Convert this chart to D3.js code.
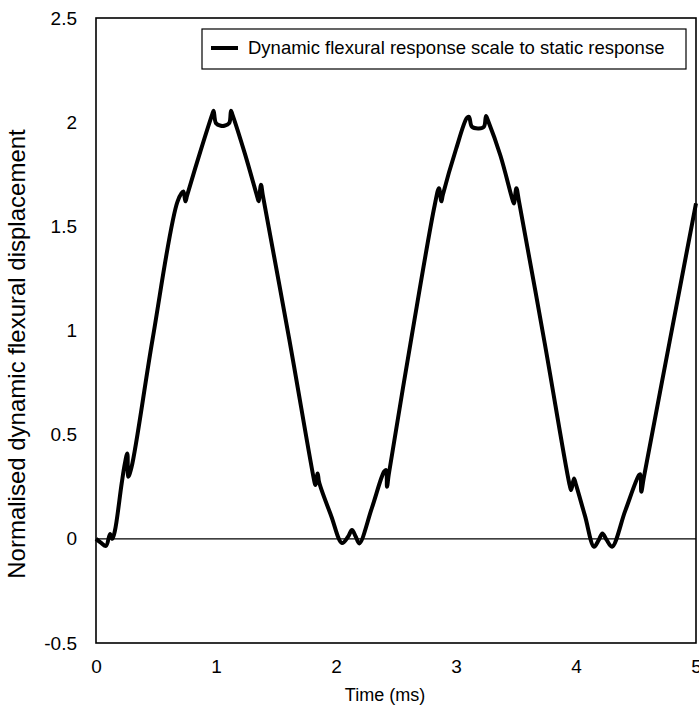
<!DOCTYPE html>
<meta charset="utf-8">
<script src="https://d3js.org/d3.v7.min.js"></script>
<style>
	body{
		margin:0;
		background:#fff;
		font-family:"Liberation Sans", Arial, sans-serif;
	}
	svg text{
		font-family:"Liberation Sans", Arial, sans-serif;
		fill:#000;
	}
</style>
<div id="chart"></div>
<script>

// time in ms
var timeMs = [0.000,0.040,0.083,0.117,0.136,0.158,0.214,0.240,0.261,0.269,0.297,0.472,0.680,0.728,0.745,0.760,0.870,0.970,0.980,1.000,1.040,1.070,1.110,1.125,1.135,1.240,1.347,1.355,1.375,1.390,1.610,1.820,1.828,1.847,1.860,1.960,2.050,2.100,2.133,2.165,2.194,2.300,2.400,2.417,2.425,2.440,2.633,2.822,2.858,2.878,2.890,3.000,3.090,3.108,3.133,3.190,3.233,3.250,3.265,3.370,3.475,3.483,3.503,3.525,3.739,3.947,3.960,3.983,4.000,4.075,4.150,4.190,4.220,4.255,4.300,4.410,4.525,4.536,4.544,4.564,4.780,5.000]
// normalised dynamic displacement
var response = [0.000,-0.018,-0.034,0.023,0.000,0.040,0.266,0.360,0.410,0.298,0.346,0.960,1.620,1.667,1.620,1.650,1.860,2.040,2.055,1.995,1.983,1.983,1.995,2.055,2.040,1.850,1.635,1.620,1.700,1.650,0.960,0.274,0.258,0.314,0.270,0.110,-0.020,0.010,0.042,0.010,-0.022,0.150,0.322,0.330,0.250,0.310,0.980,1.600,1.683,1.620,1.650,1.870,2.020,2.026,1.978,1.970,1.978,2.030,2.010,1.840,1.620,1.610,1.683,1.620,0.940,0.258,0.234,0.290,0.260,0.110,-0.038,-0.005,0.026,-0.005,-0.038,0.134,0.306,0.310,0.226,0.290,0.946,1.610]

var xTicks = [0,1,2,3,4,5]
var yTicks = [-0.5,0,0.5,1,1.5,2,2.5]
var legendLabel = "Dynamic flexural response scale to static response"

var w = 699
var h = 713
var plotL = 96, plotR = 696, plotT = 18, plotB = 643

var svg = d3.select("#chart").append("svg").attr("width",w).attr("height",h)

var x = d3.scaleLinear().domain([0,5]).range([plotL,plotR])
var y = d3.scaleLinear().domain([-0.5,2.5]).range([plotB,plotT])

// tick labels, no tick marks
var yAxis = svg.append("g").attr("transform","translate("+plotL+",0)")
	.call(d3.axisLeft(y).tickValues(yTicks).tickSize(0).tickPadding(19).tickFormat(function(d){return d}))
yAxis.select(".domain").remove()
yAxis.selectAll("text").style("font-size","19px").style("font-family","'Liberation Sans', Arial, sans-serif")

var xAxis = svg.append("g").attr("transform","translate(0,"+plotB+")")
	.call(d3.axisBottom(x).tickValues(xTicks).tickSize(0).tickPadding(17).tickFormat(function(d){return d}))
xAxis.select(".domain").remove()
xAxis.selectAll("text").style("font-size","19px").style("font-family","'Liberation Sans', Arial, sans-serif")

// zero line
svg.append("line")
	.attr("x1",plotL).attr("x2",plotR)
	.attr("y1",y(0)).attr("y2",y(0))
	.attr("stroke","#000").attr("stroke-width",1.2)

// plot frame
svg.append("rect")
	.attr("x",plotL).attr("y",plotT)
	.attr("width",plotR-plotL).attr("height",plotB-plotT)
	.attr("fill","none").attr("stroke","#000").attr("stroke-width",1.6)

var pts = timeMs.map(function(t,i){return [t,response[i]]})

var line = d3.line()
	.x(function(d){return x(d[0])})
	.y(function(d){return y(d[1])})
	.curve(d3.curveCatmullRom.alpha(0.5))

svg.append("path")
	.datum(pts)
	.attr("d",line)
	.attr("fill","none")
	.attr("stroke","#000")
	.attr("stroke-width",4)
	.attr("stroke-linejoin","round")

// legend
var lg = svg.append("g")
lg.append("rect").attr("x",202).attr("y",29).attr("width",484).attr("height",40)
	.attr("fill","#fff").attr("stroke","#000").attr("stroke-width",1.2)
lg.append("line").attr("x1",211).attr("x2",238).attr("y1",48).attr("y2",48)
	.attr("stroke","#000").attr("stroke-width",4)
lg.append("text").attr("x",248).attr("y",48).attr("dy","0.35em")
	.style("font-size","18.5px").text(legendLabel)

// axis titles
svg.append("text").attr("x",385).attr("y",701)
	.attr("text-anchor","middle").style("font-size","18px").text("Time (ms)")

svg.append("text")
	.attr("transform","translate(25,354) rotate(-90)")
	.attr("text-anchor","middle").style("font-size","24px")
	.text("Normalised dynamic flexural displacement")

</script>
